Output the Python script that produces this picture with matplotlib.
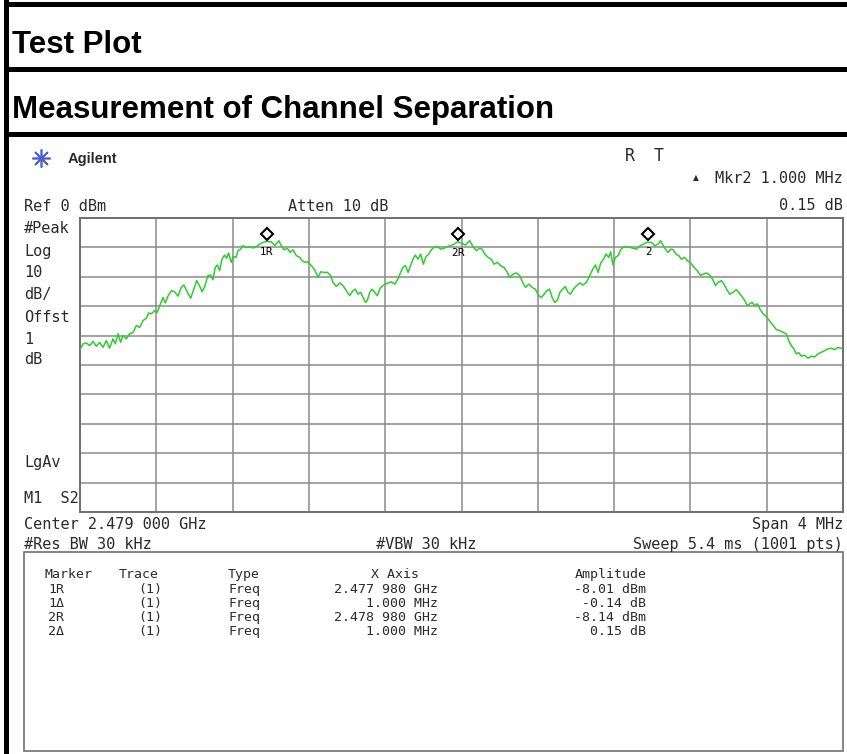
import matplotlib.pyplot as plt
import matplotlib.transforms as mtransforms
from matplotlib.lines import Line2D
from matplotlib.patches import Rectangle

W, H = 847, 754

# trace: offset from centre 2.479 GHz (MHz) and level (dBm)
freq_mhz = [
    -2.000, -1.984, -1.967, -1.949, -1.932, -1.914, -1.897, -1.879, -1.862, -1.845,
    -1.827, -1.815, -1.801, -1.787, -1.775, -1.757, -1.740, -1.722, -1.705, -1.687,
    -1.670, -1.652, -1.640, -1.626, -1.609, -1.595, -1.582, -1.574, -1.565, -1.553,
    -1.539, -1.521, -1.504, -1.486, -1.469, -1.455, -1.437, -1.420, -1.402, -1.388,
    -1.374, -1.360, -1.346, -1.329, -1.315, -1.303, -1.291, -1.280, -1.268, -1.256,
    -1.242, -1.231, -1.221, -1.207, -1.196, -1.182, -1.172, -1.158, -1.146, -1.128,
    -1.111, -1.093, -1.076, -1.058, -1.041, -1.023,
    -0.997, -0.979, -0.958, -0.945, -0.931, -0.913, -0.899, -0.883, -0.866, -0.848,
    -0.836, -0.819, -0.805, -0.787, -0.770, -0.752, -0.738, -0.721, -0.703, -0.686,
    -0.674, -0.656, -0.639, -0.621, -0.604, -0.586, -0.569, -0.557, -0.543, -0.529,
    -0.516, -0.504, -0.494, -0.481, -0.469, -0.455, -0.441, -0.427, -0.412, -0.399,
    -0.385, -0.368, -0.350, -0.333, -0.319, -0.307, -0.294, -0.280, -0.266, -0.252,
    -0.242, -0.228, -0.214, -0.200, -0.186, -0.172, -0.158, -0.144, -0.127, -0.109,
    -0.092, -0.074, -0.057, -0.039, -0.022,
    -0.001, 0.020, 0.043, 0.060, 0.078, 0.095, 0.108, 0.122, 0.139, 0.156,
    0.170, 0.188, 0.205, 0.223, 0.240, 0.253, 0.270, 0.288, 0.305, 0.322,
    0.336, 0.352, 0.370, 0.387, 0.405, 0.419, 0.433, 0.447, 0.461, 0.475,
    0.489, 0.502, 0.516, 0.530, 0.544, 0.558, 0.572, 0.586, 0.604, 0.621,
    0.637, 0.655, 0.672, 0.689, 0.702, 0.716, 0.730, 0.744, 0.758, 0.772,
    0.782, 0.794, 0.807, 0.821, 0.834, 0.848, 0.866, 0.883, 0.901, 0.918,
    0.936, 0.953, 0.971,
    0.995, 1.013, 1.030, 1.044, 1.056, 1.069, 1.083, 1.097, 1.110, 1.125,
    1.139, 1.152, 1.170, 1.184, 1.201, 1.219, 1.236, 1.254, 1.266, 1.284,
    1.301, 1.318, 1.331, 1.345, 1.362, 1.376, 1.394, 1.406, 1.423, 1.441,
    1.453, 1.467, 1.485, 1.498, 1.511, 1.523, 1.537, 1.551, 1.565, 1.581,
    1.593, 1.607, 1.621, 1.635, 1.651, 1.668, 1.685, 1.703, 1.715, 1.729,
    1.743, 1.755, 1.768, 1.782, 1.799, 1.817, 1.834, 1.851, 1.869, 1.886,
    1.904, 1.921, 1.939, 1.956, 1.974, 2.000,
]
level_dbm = [
    -44.8, -42.8, -42.5, -43.4, -42.0, -43.6, -42.3, -44.0, -41.7, -44.3,
    -41.1, -42.8, -39.4, -42.3, -40.0, -41.1, -39.4, -38.9, -36.6, -37.2,
    -34.9, -34.1, -32.3, -32.6, -31.5, -32.1, -29.8, -28.5, -27.0, -28.9,
    -26.6, -24.7, -25.1, -26.6, -23.6, -22.8, -25.3, -27.3, -23.9, -21.3,
    -23.0, -25.1, -23.3, -19.6, -19.4, -21.0, -16.8, -16.0, -17.9, -14.0,
    -12.6, -13.7, -11.9, -15.1, -13.1, -13.4, -11.1, -10.6, -9.4, -10.0,
    -9.7, -10.2, -9.8, -8.9, -8.3, -8.0,
    -8.1, -9.4, -7.7, -9.4, -10.8, -10.3, -11.7, -10.8, -12.8, -13.4,
    -14.5, -15.1, -14.9, -16.2, -17.6, -20.2, -18.3, -18.5, -18.5, -19.6,
    -21.9, -23.3, -22.1, -23.0, -24.7, -26.4, -24.7, -24.2, -25.9, -25.3,
    -27.0, -28.7, -28.1, -25.3, -24.2, -25.3, -26.4, -23.9, -23.0, -22.5,
    -22.1, -21.7, -22.5, -20.7, -18.5, -16.8, -16.2, -18.5, -16.0, -13.7,
    -12.6, -14.0, -12.3, -15.7, -13.1, -12.3, -10.8, -10.0, -9.7, -10.6,
    -10.3, -9.7, -9.4, -8.9, -8.1,
    -8.5, -9.2, -7.7, -9.7, -11.1, -10.3, -10.6, -12.3, -13.4, -14.0,
    -15.7, -15.1, -16.2, -16.8, -18.5, -20.2, -19.1, -18.7, -19.6, -22.1,
    -23.6, -22.5, -23.6, -24.2, -26.4, -27.0, -25.9, -24.7, -24.2, -27.0,
    -28.7, -28.1, -25.3, -24.2, -23.3, -25.3, -25.9, -24.2, -23.0, -22.1,
    -22.8, -21.9, -19.6, -17.3, -16.0, -18.5, -15.3, -14.0, -12.3, -13.4,
    -11.5, -16.0, -13.4, -12.8, -10.8, -10.0, -9.7, -10.0, -10.3, -10.6,
    -9.4, -8.9, -8.3,
    -8.3, -9.4, -8.9, -7.7, -9.2, -10.6, -11.7, -10.6, -10.8, -12.3,
    -12.8, -14.0, -13.4, -14.5, -15.3, -16.8, -17.9, -19.6, -19.1, -18.7,
    -19.4, -21.0, -23.0, -21.9, -21.3, -22.5, -24.7, -25.9, -25.3, -24.4,
    -25.3, -26.4, -28.1, -29.8, -29.2, -28.7, -29.8, -29.2, -31.0, -32.6,
    -33.2, -34.3, -35.5, -36.6, -38.0, -38.3, -38.9, -39.4, -41.7, -43.4,
    -44.5, -46.2, -45.8, -47.0, -46.7, -47.7, -47.0, -47.3, -46.2, -45.7,
    -45.1, -44.5, -44.3, -44.8, -44.0, -44.5,
]

marker_names = ["1R", "2R", "2"]
marker_freq_mhz = [-1.02, -0.02, 0.98]
marker_level_dbm = [-8.01, -8.14, -7.99]

left_labels = ["#Peak", "Log", "10", "dB/", "Offst", "1", "dB"]
left_label_y = [227, 250, 271, 293, 316, 338, 358]

table_header = ["Marker", "Trace", "Type", "X Axis", "Amplitude"]
table_marker = ["1R", "1\u0394", "2R", "2\u0394"]
table_trace = ["(1)", "(1)", "(1)", "(1)"]
table_type = ["Freq", "Freq", "Freq", "Freq"]
table_xaxis = ["2.477 980 GHz", "1.000 MHz", "2.478 980 GHz", "1.000 MHz"]
table_amp = ["-8.01 dBm", "-0.14 dB", "-8.14 dBm", "0.15 dB"]

MONO = "DejaVu Sans Mono"
INK = "#2a2a2a"
GRID = "#8a8a8a"

fig = plt.figure(figsize=(W / 100, H / 100), dpi=100)


def px_text(x, y, s, **kw):
    kw.setdefault("family", MONO)
    kw.setdefault("color", INK)
    kw.setdefault("va", "center_baseline")
    fig.text(x / W, 1 - y / H, s, **kw)


def px_rect(x0, y0, x1, y1, **kw):
    fig.add_artist(Rectangle((x0 / W, 1 - y1 / H), (x1 - x0) / W, (y1 - y0) / H,
                             transform=fig.transFigure, **kw))


# black report frame
px_rect(4, 0, 9, H, color="black", lw=0)
for y0 in (2, 67, 132):
    px_rect(4, y0, W, y0 + 5, color="black", lw=0)

px_text(12, 53, "Test Plot", family="Liberation Sans", weight="bold",
        fontsize=22.5, color="black", va="baseline")
px_text(12, 118, "Measurement of Channel Separation", family="Liberation Sans",
        weight="bold", fontsize=22.5, color="black", va="baseline")

# analyzer header
fig.add_artist(Line2D([41 / W], [1 - 158 / H], marker=(8, 2, 0), ms=13, mew=1.2,
                      color="#4a5fd0", transform=fig.transFigure))
px_text(68, 158, "Agilent", family="Liberation Sans", weight="bold", fontsize=10.5)
px_text(630, 154, "R", fontsize=12, ha="center")
px_text(659, 154, "T", fontsize=12, ha="center")
px_text(696, 177, "\u25b2", family="DejaVu Sans", fontsize=5.5, ha="center")
px_text(843, 177, "Mkr2 1.000 MHz", fontsize=11, ha="right")
px_text(843, 204, "0.15 dB", fontsize=11, ha="right")
px_text(24, 205, "Ref 0 dBm", fontsize=11)
px_text(288, 205, "Atten 10 dB", fontsize=11)
for lab, y in zip(left_labels, left_label_y):
    px_text(24, y, lab, fontsize=11)
px_text(24, 461, "LgAv", fontsize=11)
px_text(24, 497, "M1  S2", fontsize=11)

# trace display
ax = fig.add_axes([80 / W, 1 - 512 / H, 763 / W, 294 / H])
ax.plot(freq_mhz, level_dbm, color="#2ecc2e", lw=1.1, zorder=3)
ax.set_xlim(-2, 2)
ax.set_ylim(-100, 0)
ax.set_xticks([-2 + 0.4 * i for i in range(11)])
ax.set_yticks([-10 * i for i in range(11)])
ax.grid(True, color=GRID, lw=1.1)
ax.tick_params(length=0, labelbottom=False, labelleft=False)
for sp in ax.spines.values():
    sp.set_color("#707070")
    sp.set_linewidth(1.4)

up = ax.transData + mtransforms.ScaledTranslation(0, 0.075, fig.dpi_scale_trans)
ax.plot(marker_freq_mhz, marker_level_dbm, ls="none", marker="D", ms=6,
        mfc="white", mec="black", mew=1.5, transform=up, zorder=4, clip_on=False)
for name, f, lvl in zip(marker_names, marker_freq_mhz, marker_level_dbm):
    ax.annotate(name, (f, lvl), xytext=(0, -7), textcoords="offset points",
                ha="center", va="center_baseline", fontsize=7.5,
                family="DejaVu Sans", color="black", zorder=5)

# settings under the display
px_text(24, 523, "Center 2.479 000 GHz", fontsize=11)
px_text(843, 523, "Span 4 MHz", fontsize=11, ha="right")
px_text(24, 543, "#Res BW 30 kHz", fontsize=11)
px_text(376, 543, "#VBW 30 kHz", fontsize=11)
px_text(843, 543, "Sweep 5.4 ms (1001 pts)", fontsize=11, ha="right")

# marker table
px_rect(24, 552, 843, 751, fill=False, ec="#707070", lw=1.2)
head_x = [68, 139, 228, 395, 611]
head_ha = ["center", "center", "left", "center", "center"]
for txt, x, ha in zip(table_header, head_x, head_ha):
    px_text(x, 573, txt, fontsize=9.5, ha=ha)
row_y = [588, 602, 616, 630]
for i, y in enumerate(row_y):
    px_text(56, y, table_marker[i], fontsize=9.5, ha="center")
    px_text(150, y, table_trace[i], fontsize=9.5, ha="center")
    px_text(228, y, table_type[i], fontsize=9.5)
    px_text(438, y, table_xaxis[i], fontsize=9.5, ha="right")
    px_text(646, y, table_amp[i], fontsize=9.5, ha="right")

fig.savefig("out.png", dpi=100)
